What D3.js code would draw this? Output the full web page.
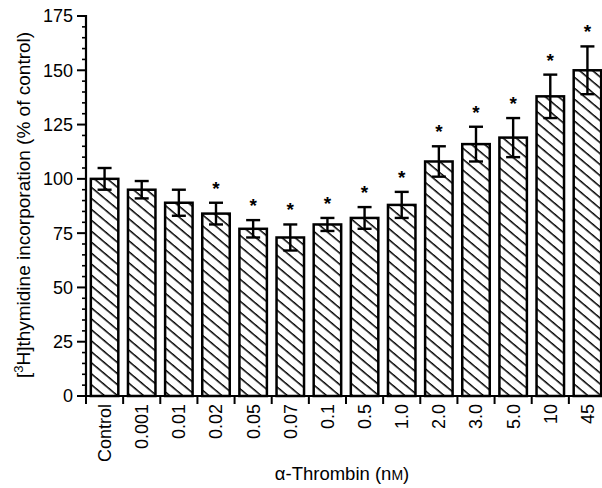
<!DOCTYPE html>
<html><head><meta charset="utf-8">
<script src="https://cdn.jsdelivr.net/npm/d3@7"></script>
<style>body{margin:0;background:#fff}svg{display:block}text{font-family:"Liberation Sans",Arial,sans-serif;fill:#000}</style>
</head><body>
<svg id="c" width="602" height="488"></svg>
<script>
const categories = ["Control","0.001","0.01","0.02","0.05","0.07","0.1","0.5","1.0","2.0","3.0","5.0","10","45"];
const means = [100,95,89,84,77,73,79,82,88,108,116,119,138,150];
const errors = [5,4,6,5,4,6,3,5,6,7,8,9,10,11];
const significant = [false,false,false,true,true,true,true,true,true,true,true,true,true,true];
const yTicks = [0,25,50,75,100,125,150,175];

const svg = d3.select("#c");
const x = d3.scaleBand().domain(categories).range([86, 606]).paddingInner(0.26).paddingOuter(0.13);
const y = d3.scaleLinear().domain([0,175]).range([396,16]);

const defs = svg.append("defs");
const pat = defs.append("pattern").attr("id","hatch").attr("patternUnits","userSpaceOnUse")
  .attr("width",8.4).attr("height",8.4).attr("patternTransform","rotate(40)");
pat.append("line").attr("x1",0).attr("y1",0.75).attr("x2",8.4).attr("y2",0.75).attr("stroke","#000").attr("stroke-width",1.5);

// bars
svg.append("g").selectAll("rect").data(categories).join("rect")
  .attr("x",d=>x(d)).attr("width",x.bandwidth())
  .attr("y",(d,i)=>y(means[i])).attr("height",(d,i)=>y(0)-y(means[i]))
  .attr("fill","url(#hatch)").attr("stroke","#000").attr("stroke-width",2.5);

// error bars
const eg = svg.append("g").attr("stroke","#000").attr("stroke-width",2.4);
categories.forEach((d,i)=>{
  const cx = x(d)+x.bandwidth()/2;
  const t = y(means[i]+errors[i]), b = y(means[i]-errors[i]);
  eg.append("line").attr("x1",cx).attr("x2",cx).attr("y1",t).attr("y2",b);
  eg.append("line").attr("x1",cx-7).attr("x2",cx+7).attr("y1",t).attr("y2",t);
  eg.append("line").attr("x1",cx-7).attr("x2",cx+7).attr("y1",b).attr("y2",b);
  if (significant[i]) {
    svg.append("text").attr("x",cx).attr("y",t-8).attr("text-anchor","middle")
      .attr("font-size",19).attr("font-weight","bold").text("*");
  }
});

// y axis
const yAxis = svg.append("g");
yAxis.append("line").attr("x1",86).attr("x2",86).attr("y1",y(175)-1).attr("y2",y(0)+1).attr("stroke","#000").attr("stroke-width",2.2);
d3.range(0,176,5).forEach(v=>{
  const major = v%25===0;
  yAxis.append("line").attr("x1",major?77:82).attr("x2",86).attr("y1",y(v)).attr("y2",y(v)).attr("stroke","#000").attr("stroke-width",major?2:1.6);
});
yAxis.selectAll("text").data(yTicks).join("text").attr("x",73).attr("y",d=>y(d)).attr("dy","0.36em")
  .attr("text-anchor","end").attr("font-size",18).text(d=>d);

// x axis
const xAxis = svg.append("g");
xAxis.append("line").attr("x1",85).attr("x2",602).attr("y1",396).attr("y2",396).attr("stroke","#000").attr("stroke-width",2.2);
categories.forEach(d=>{
  const tx = x(d)+x.bandwidth()/2 - x.step()/2;
  xAxis.append("line").attr("x1",tx).attr("x2",tx).attr("y1",396).attr("y2",404).attr("stroke","#000").attr("stroke-width",2);
});
xAxis.selectAll("text").data(categories).join("text")
  .attr("transform",d=>`translate(${x(d)+x.bandwidth()/2},404) rotate(-90)`)
  .attr("dy","0.36em").attr("text-anchor","end").attr("font-size",18).text(d=>d);

// axis titles
const yt = svg.append("text").attr("transform","translate(30,205) rotate(-90)").attr("text-anchor","middle").attr("font-size",19);
yt.append("tspan").text("[");
yt.append("tspan").attr("font-size",13).attr("dy",-7).text("3");
yt.append("tspan").attr("dy",7).text("H]thymidine incorporation (% of control)");

const xt = svg.append("text").attr("x",342).attr("y",480).attr("text-anchor","middle").attr("font-size",18.5);
xt.append("tspan").text("α-Thrombin (n");
xt.append("tspan").attr("font-size",14).text("M");
xt.append("tspan").text(")");
</script>
</body></html>
